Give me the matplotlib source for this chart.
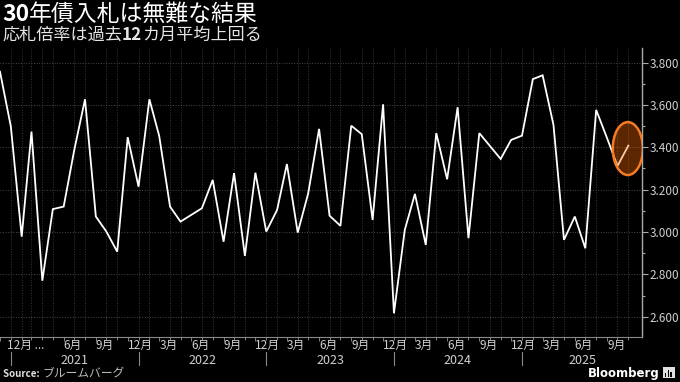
import matplotlib
matplotlib.use('Agg')
import matplotlib.pyplot as plt
import matplotlib.dates as mdates
import matplotlib.transforms as mtrans
from matplotlib.patches import Ellipse, Rectangle
from matplotlib.ticker import MultipleLocator, FormatStrFormatter
import pandas as pd

plt.rcParams['font.family'] = ['Noto Sans CJK JP', 'DejaVu Sans']

# 30年債入札 応札倍率 (月次, 2020年12月 - 2025年11月)
months = pd.date_range('2020-12-01', '2025-11-01', freq='MS')
bid_cover = [3.757, 3.498, 2.978, 3.474, 2.770, 3.108, 3.120, 3.385, 3.627, 3.073,
             3.002, 2.907, 3.448, 3.214, 3.627, 3.454, 3.120, 3.049, 3.081, 3.112,
             3.246, 2.954, 3.278, 2.887, 3.280, 3.002, 3.104, 3.321, 2.997, 3.183,
             3.487, 3.077, 3.029, 3.502, 3.462, 3.057, 3.603, 2.616, 3.010, 3.180,
             2.939, 3.467, 3.249, 3.589, 2.971, 3.467, 3.407, 3.345, 3.435, 3.455,
             3.722, 3.740, 3.506, 2.963, 3.073, 2.923, 3.577, 3.444, 3.312, 3.408]

tick_months = ['2020-12-01', '2021-06-01', '2021-09-01', '2021-12-01', '2022-03-01',
               '2022-06-01', '2022-09-01', '2022-12-01', '2023-03-01', '2023-06-01',
               '2023-09-01', '2023-12-01', '2024-03-01', '2024-06-01', '2024-09-01',
               '2024-12-01', '2025-03-01', '2025-06-01', '2025-09-01']
tick_labels = ['12月 ...', '6月', '9月', '12月', '3月', '6月', '9月', '12月', '3月', '6月',
               '9月', '12月', '3月', '6月', '9月', '12月', '3月', '6月', '9月']
years = [2021, 2022, 2023, 2024, 2025]
yticks = [2.6, 2.8, 3.0, 3.2, 3.4, 3.6, 3.8]

bg = '#000000'
fig = plt.figure(figsize=(6.8, 3.82), dpi=100, facecolor=bg)
ax = fig.add_axes([0, 0.1178, 0.9441, 0.7565], facecolor=bg)

x = mdates.date2num(months)
ax.plot(x, bid_cover, color='white', lw=1.3, solid_joinstyle='miter', zorder=3)

# 直近の入札を囲む楕円
ell = Ellipse((x[-1] - 1.5, bid_cover[-1] - 0.014), width=86, height=0.25,
              facecolor='#ff6a00', alpha=0.36, edgecolor='none', zorder=4)
ax.add_patch(ell)
ell2 = Ellipse((x[-1] - 1.5, bid_cover[-1] - 0.014), width=86, height=0.25,
               facecolor='none', edgecolor='#f47a24', lw=1.8, zorder=5)
ax.add_patch(ell2)

xmin = mdates.date2num(pd.Timestamp('2020-12-01'))
xmax = mdates.date2num(pd.Timestamp('2025-12-10'))
ax.set_xlim(xmin, xmax)
ax.set_ylim(2.504, 3.869)

# y軸 (右側)
ax.yaxis.tick_right()
ax.set_yticks(yticks)
ax.yaxis.set_minor_locator(MultipleLocator(0.1))
ax.yaxis.set_major_formatter(FormatStrFormatter('%.3f'))
ax.tick_params(axis='y', which='major', length=4, width=0.8, color='#aaaaaa',
               labelcolor='#d0d0d0', labelsize=8.5, pad=1.2)
ax.tick_params(axis='y', which='minor', length=2, width=0.8, color='#aaaaaa')

# x軸
ax.set_xticks(mdates.date2num(pd.to_datetime(tick_months)), tick_labels, ha='left')
ax.set_xticks(x, minor=True)
ax.tick_params(axis='x', which='major', length=3, width=0.6, color='#999999',
               labelcolor='#d0d0d0', labelsize=8.5, pad=0)
ax.tick_params(axis='x', which='minor', length=2, width=0.6, color='#999999')
for lab in ax.get_xticklabels():
    lab.set_transform(lab.get_transform() +
                      mtrans.ScaledTranslation(0, 1.5 / 72, fig.dpi_scale_trans))
first = ax.get_xticklabels()[0]
first.set_transform(first.get_transform() +
                    mtrans.ScaledTranslation(5 / 72, 0, fig.dpi_scale_trans))

ax.grid(axis='y', which='major', color='#4a4a4a', ls=':', lw=0.7)
ax.grid(axis='x', which='minor', color='#3a3a3a', ls=':', lw=0.7)

for s in ['top', 'left']:
    ax.spines[s].set_visible(False)
ax.spines['right'].set_color('#aaaaaa')
ax.spines['right'].set_linewidth(1)
ax.spines['bottom'].set_color('#888888')
ax.spines['bottom'].set_linewidth(0.8)

# 年ラベル
trans = mtrans.blended_transform_factory(ax.transData, ax.transAxes)
for yr in years:
    x0 = mdates.date2num(pd.Timestamp(f'{yr}-01-01'))
    x1 = min(mdates.date2num(pd.Timestamp(f'{yr + 1}-01-01')), xmax)
    ax.plot([x0, x0], [-0.052, -0.097], transform=trans, color='#888888',
            lw=0.8, clip_on=False)
    ax.text((x0 + x1) / 2, -0.094, str(yr), transform=trans, ha='center',
            va='baseline', color='#d0d0d0', fontsize=9)

# タイトル
renderer = fig.canvas.get_renderer()
def mixed(parts, x0, y0, color):
    xx = x0
    for s, w, size, c in parts:
        t = fig.text(xx, y0, s, fontsize=size, color=c or color, fontweight=w,
                     va='baseline', ha='left')
        bb = t.get_window_extent(renderer)
        xx = bb.x1 / fig.bbox.width
    return xx

mixed([('30', 'bold', 16.5, None), ('年債入札は無難な結果', 'normal', 16.5, None)],
      0.003, 0.9463, 'white')
mixed([('応札倍率は過去', 'normal', 12.3, None), ('12', 'bold', 12.3, None),
       ('カ月平均上回る', 'normal', 12.3, None)], 0.003, 0.8953, '#e6e6e6')

# 出典
mixed([('Source: ', 'bold', 7, None), ('ブルームバーグ', 'normal', 8.5, '#bbbbbb')],
      0.005, 0.0135, '#e0e0e0')
fig.text(0.970, 0.0135, 'Bloomberg', fontsize=8.5, fontweight='bold', color='white',
         ha='right', va='baseline', family='DejaVu Sans')
fig.patches.append(Rectangle((0.975, 0.011), 0.017, 0.027, transform=fig.transFigure,
                             facecolor='#e0e0e0', edgecolor='none', figure=fig))
for i, h in enumerate([0.010, 0.017, 0.013]):
    fig.patches.append(Rectangle((0.978 + i * 0.004, 0.014), 0.002, h,
                                 transform=fig.transFigure, facecolor='black',
                                 edgecolor='none', figure=fig))

fig.savefig('out.png', dpi=100, facecolor=bg)
